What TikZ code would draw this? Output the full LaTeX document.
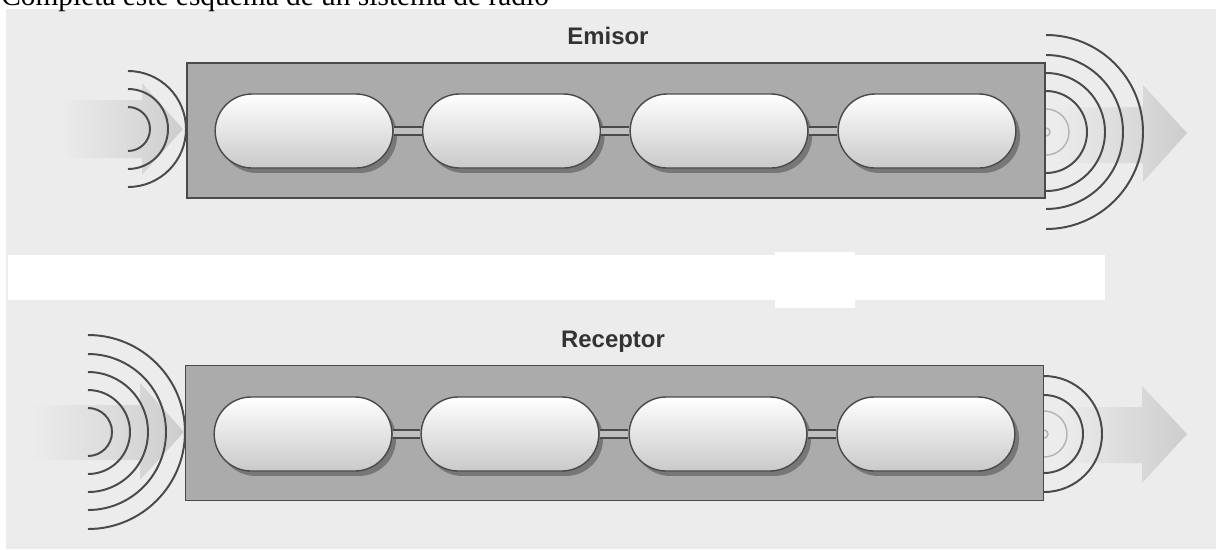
\documentclass[tikz,border=0pt]{standalone}
\usepackage{fontspec}
\setmainfont{Liberation Serif}
\newfontfamily\labelfont{Liberation Sans}
\usetikzlibrary{shapes.misc,shadows}
\definecolor{paper}{HTML}{ECECEC}
\definecolor{boxgray}{HTML}{ABABAB}
\definecolor{ink}{HTML}{4A4A4A}
\definecolor{beam}{HTML}{CDCDCD}
\begin{document}
\begin{tikzpicture}
  [x=0.025cm,y=-0.025cm,
   frame/.style={rectangle,draw=ink,line width=1.1pt,fill=boxgray,minimum width=21.45cm,minimum height=3.375cm,inner sep=0},
   pill/.style={rounded rectangle,draw=ink,line width=1pt,minimum width=4.675cm,minimum height=1.85cm,
     top color=white,middle color=gray!22,bottom color=gray!42,
     drop shadow={shadow xshift=3pt,shadow yshift=-3.5pt,fill=black,opacity=.3}},
   bar/.style={draw=ink,double=gray!50,double distance=4.6pt,line width=1.1pt},
   wave/.style={draw=ink,line width=1.4pt},
   faint/.style={draw=gray!60,line width=1pt},
   heading/.style={font=\labelfont\bfseries\fontsize{17}{20}\selectfont,text=black!80,inner sep=0,anchor=base}]
  \useasboundingbox (0,0) rectangle (1216,549);
  \clip (0,0) rectangle (1216,549);
  \fill[paper] (6,9) rectangle (1216,549);
  \node[anchor=base west,inner sep=0,font=\fontsize{20.9}{24}\selectfont] (title) at (1,5)
    {Completa este esquema de un sistema de radio};

  % emisor
  \node[heading] (emisor) at (608,44) {Emisor};
  \shade[left color=paper,right color=beam] (60,100) -- (142,100) -- (142,83) -- (183,129)
    -- (142,175) -- (142,158) -- (60,158) -- cycle;
  \shade[left color=paper,middle color=beam,right color=beam] (1055,107) -- (1143,107) -- (1143,85)
    -- (1187,133) -- (1143,182) -- (1143,163) -- (1055,163) -- cycle;
  \coordinate (ein) at (128,129);
  \coordinate (eout) at (1046,132);
  \foreach \r in {22,40,58}
    \draw[wave] (ein) ++(0,-\r) arc[start angle=-90,end angle=90,radius=\r];
  \foreach \r in {41,59,77,97}
    \draw[wave] (eout) ++(0,-\r) arc[start angle=-90,end angle=90,radius=\r];
  \draw[faint] (eout) ++(0,-23) arc[start angle=-90,end angle=90,radius=23];
  \draw[faint] (eout) ++(0,-4) arc[start angle=-90,end angle=90,radius=4];
  \node[frame] (tx) at (616,130.5) {};
  \node[pill] (e1) at (304,131) {};
  \node[pill] (e2) at (511.5,131) {};
  \node[pill] (e3) at (719,131) {};
  \node[pill] (e4) at (927,131) {};

  % hueco en blanco
  \fill[white] (8,255) rectangle (1105,300);
  \fill[white] (775,252) rectangle (855,308);

  % receptor
  \node[heading] (receptor) at (613,347) {Receptor};
  \shade[left color=paper,right color=beam] (30,405) -- (140,405) -- (140,383) -- (184,432)
    -- (140,480) -- (140,460) -- (30,460) -- cycle;
  \shade[left color=paper,middle color=beam,right color=beam] (1060,407) -- (1142,407) -- (1142,386)
    -- (1187,434) -- (1142,483) -- (1142,463) -- (1060,463) -- cycle;
  \coordinate (rin) at (88,432);
  \coordinate (rout) at (1044,434);
  \foreach \r in {24,42,60,78,97}
    \draw[wave] (rin) ++(0,-\r) arc[start angle=-90,end angle=90,radius=\r];
  \foreach \r in {39,58}
    \draw[wave] (rout) ++(0,-\r) arc[start angle=-90,end angle=90,radius=\r];
  \draw[faint] (rout) ++(0,-23) arc[start angle=-90,end angle=90,radius=23];
  \draw[faint] (rout) ++(0,-4) arc[start angle=-90,end angle=90,radius=4];
  \node[frame] (rx) at (614.5,433) {};
  \node[pill] (r1) at (303,434) {};
  \node[pill] (r2) at (510,434) {};
  \node[pill] (r3) at (718,434) {};
  \node[pill] (r4) at (926,434) {};

  \foreach \from/\to in {e1/e2,e2/e3,e3/e4,r1/r2,r2/r3,r3/r4}
    \draw[bar] (\from.east) -- (\to.west);

\end{tikzpicture}
\end{document}
